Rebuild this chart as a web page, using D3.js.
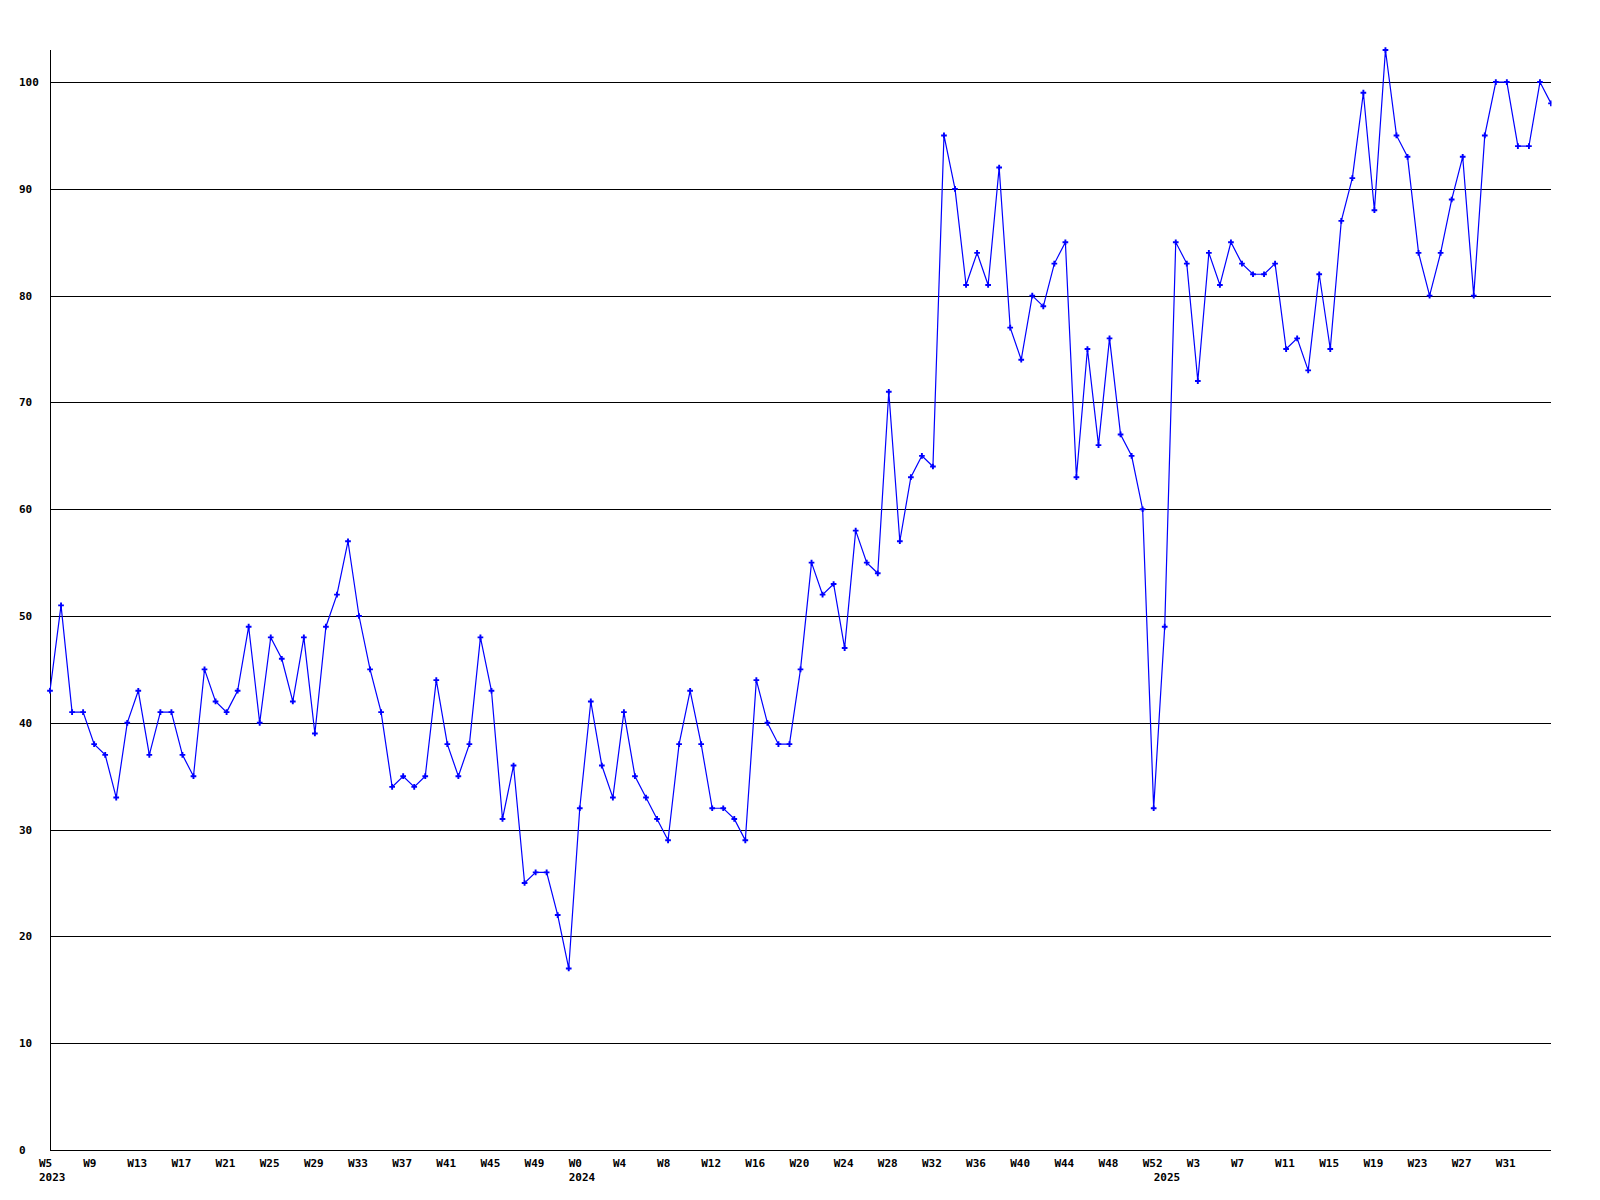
<!DOCTYPE html>
<html>
<head>
<meta charset="utf-8">
<script src="https://cdn.jsdelivr.net/npm/d3@7"></script>
<style>
  html, body { margin: 0; padding: 0; background: #ffffff; }
  svg text { font-family: "DejaVu Sans Mono", "Liberation Mono", monospace; font-weight: bold; font-size: 11px; fill: #000; }
</style>
</head>
<body>
<script>
// ---- Data ----
const years = ["2023", "2024", "2025"];
const weeks2023 = [5,6,7,8,9,10,11,12,13,14,15,16,17,18,19,20,21,22,23,24,25,26,27,28,29,30,31,32,33,34,35,36,37,38,39,40,41,42,43,44,45,46,47,48,49,50,51,52];
const weeks2024 = [0,1,2,3,4,5,6,7,8,9,10,11,12,13,14,15,16,17,18,19,20,21,22,23,24,25,26,27,28,29,30,31,32,33,34,35,36,37,38,39,40,41,42,43,44,45,46,47,48,49,50,51,52];
const weeks2025 = [0,1,2,3,4,5,6,7,8,9,10,11,12,13,14,15,16,17,18,19,20,21,22,23,24,25,26,27,28,29,30,31,32,33,34,35];
const values2023 = [43,51,41,41,38,37,33,40,43,37,41,41,37,35,45,42,41,43,49,40,48,46,42,48,39,49,52,57,50,45,41,34,35,34,35,44,38,35,38,48,43,31,36,25,26,26,22,17];
const values2024 = [32,42,36,33,41,35,33,31,29,38,43,38,32,32,31,29,44,40,38,38,45,55,52,53,47,58,55,54,71,57,63,65,64,95,90,81,84,81,92,77,74,80,79,83,85,63,75,66,76,67,65,60,32];
const values2025 = [49,85,83,72,84,81,85,83,82,82,83,75,76,73,82,75,87,91,99,88,103,95,93,84,80,84,89,93,80,95,100,100,94,94,100,98];
const yTicks = [0,10,20,30,40,50,60,70,80,90,100];
const yMax = 103;
const labelEvery = 4;

// ---- Build table ----
const weekLists = [weeks2023, weeks2024, weeks2025];
const valueLists = [values2023, values2024, values2025];
const data = [];
years.forEach((yr, yi) => {
  weekLists[yi].forEach((w, wi) => {
    data.push({ year: yr, week: w, label: "W" + w, value: valueLists[yi][wi], firstOfYear: wi === 0 });
  });
});
data.forEach((d, i) => d.i = i);

// ---- Layout ----
const W = 1600, H = 1200;
const mLeft = 50, mRight = 1551, mTop = 50, mBottom = 1150;

const svg = d3.select("body").append("svg").attr("width", W).attr("height", H);

const x = d3.scaleLinear().domain([0, data.length - 1]).range([mLeft, mRight]);
const y = d3.scaleLinear().domain([0, yMax]).range([mBottom, mTop]);

// gridlines
svg.append("g").selectAll("line").data(yTicks.filter(t => t > 0)).join("line")
  .attr("x1", mLeft).attr("x2", mRight)
  .attr("y1", d => Math.round(y(d)) + 0.5).attr("y2", d => Math.round(y(d)) + 0.5)
  .attr("stroke", "#000").attr("stroke-width", 1);

// axes lines
svg.append("line").attr("x1", mLeft + 0.5).attr("x2", mLeft + 0.5).attr("y1", mTop).attr("y2", mBottom + 0.5)
  .attr("stroke", "#000").attr("stroke-width", 1);
svg.append("line").attr("x1", mLeft).attr("x2", mRight).attr("y1", mBottom + 0.5).attr("y2", mBottom + 0.5)
  .attr("stroke", "#000").attr("stroke-width", 1);

// y labels
svg.append("g").selectAll("text").data(yTicks).join("text")
  .attr("x", 19).attr("y", d => Math.round(y(d)) + 4)
  .text(d => d);

// x labels
const tickData = data.filter(d => d.i % labelEvery === 0 && d.i < data.length - 1);
svg.append("g").selectAll("text").data(tickData).join("text")
  .attr("x", d => x(d.i) - 11).attr("y", 1167)
  .text(d => d.label);
svg.append("g").selectAll("text").data(data.filter(d => d.firstOfYear)).join("text")
  .attr("x", d => x(d.i) - 11).attr("y", 1181)
  .text(d => d.year);

// line
svg.append("defs").append("clipPath").attr("id", "clip")
  .append("rect").attr("x", 0).attr("y", 0).attr("width", mRight + 0.5).attr("height", H);

const plot = svg.append("g").attr("clip-path", "url(#clip)");
plot.append("path").datum(data)
  .attr("fill", "none").attr("stroke", "#0000ff").attr("stroke-width", 1.2)
  .attr("d", d3.line().x(d => x(d.i)).y(d => y(d.value)));

plot.append("g").selectAll("path").data(data).join("path")
  .attr("transform", d => `translate(${x(d.i)},${y(d.value)})`)
  .attr("d", d3.symbol(d3.symbolCross, 18))
  .attr("fill", "#0000ff");
</script>
</body>
</html>
